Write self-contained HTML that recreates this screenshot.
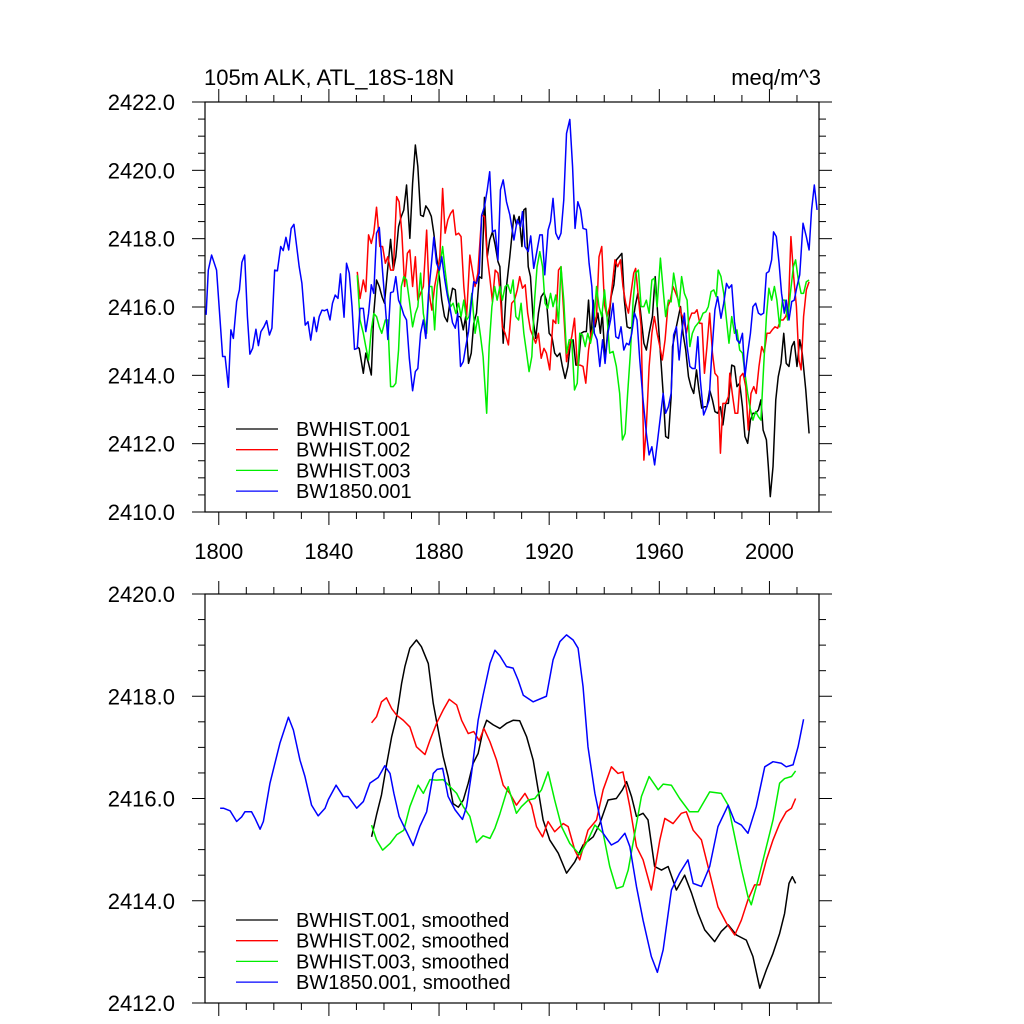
<!DOCTYPE html>
<html><head><meta charset="utf-8">
<style>
html,body{margin:0;padding:0;background:#fff;}
svg{display:block;font-family:"Liberation Sans",Arial,sans-serif;}
</style></head>
<body>
<svg id="chart" xmlns="http://www.w3.org/2000/svg" width="1024" height="1024" viewBox="0 0 1024 1024">
<rect width="1024" height="1024" fill="#fff"/>
<text x="204" y="85" font-size="22">105m ALK, ATL_18S-18N</text>
<text x="821" y="85" font-size="22" text-anchor="end">meq/m^3</text>
<g id="top"></g>
<g id="bottom"></g>
</svg>
<script>
const xDomain=[1795,2018];
const topYTicks=[2410,2412,2414,2416,2418,2420,2422];
const botYTicks=[2412,2414,2416,2418,2420];
const xTicks=[1800,1840,1880,1920,1960,2000];
const seriesNames=["BWHIST.001","BWHIST.002","BWHIST.003","BW1850.001"];
const seriesColors=["#000000","#ff0000","#00ee00","#0000ff"];

const blackRaw=[[1850.1,2414.84],[1851.0,2414.79],[1852.5,2414.06],[1853.4,2414.65],[1854.4,2414.35],[1855.4,2414.01],[1856.3,2415.81],[1857.3,2416.79],[1858.3,2416.6],[1859.3,2416.3],[1860.2,2416.11],[1861.2,2416.99],[1862.4,2417.98],[1863.4,2417.08],[1864.3,2417.47],[1865.3,2418.35],[1866.3,2418.65],[1867.2,2418.84],[1868.2,2419.57],[1869.4,2418.01],[1870.4,2419.62],[1871.4,2420.74],[1872.3,2420.11],[1873.3,2418.69],[1874.3,2418.65],[1875.2,2418.96],[1876.2,2418.84],[1877.2,2418.65],[1878.1,2418.16],[1879.1,2417.47],[1880.1,2416.89],[1881.0,2416.2],[1882.0,2415.72],[1883.0,2415.57],[1883.9,2416.11],[1884.9,2416.55],[1885.9,2416.5],[1886.8,2415.72],[1887.8,2415.72],[1888.8,2415.33],[1889.7,2415.72],[1890.7,2414.35],[1891.7,2414.65],[1892.6,2415.52],[1893.6,2415.82],[1894.6,2416.89],[1895.5,2416.84],[1896.5,2419.21],[1897.5,2417.47],[1898.4,2417.96],[1899.4,2418.2],[1900.4,2417.81],[1901.4,2417.33],[1902.1,2417.18],[1903.3,2414.94],[1904.5,2416.6],[1905.7,2417.47],[1907.2,2418.69],[1908.1,2418.4],[1909.1,2418.65],[1910.1,2417.77],[1910.8,2418.84],[1911.5,2418.89],[1912.4,2417.18],[1913.2,2416.89],[1914.2,2415.62],[1915.1,2415.08],[1916.1,2415.82],[1917.1,2416.3],[1918.1,2416.42],[1919.0,2416.2],[1920.0,2415.23],[1921.0,2415.13],[1922.0,2414.65],[1922.9,2414.55],[1923.9,2414.65],[1924.8,2414.26],[1925.8,2413.91],[1926.8,2414.26],[1927.7,2414.94],[1928.7,2415.04],[1929.7,2414.3],[1930.6,2414.3],[1931.6,2415.23],[1932.6,2415.28],[1933.5,2415.28],[1934.3,2416.2],[1935.2,2415.04],[1936.0,2416.2],[1936.7,2415.42],[1937.7,2415.82],[1938.6,2415.23],[1939.3,2415.82],[1940.3,2414.45],[1941.3,2415.33],[1942.5,2416.3],[1943.5,2416.65],[1944.4,2417.38],[1945.4,2417.47],[1946.4,2417.57],[1947.3,2416.2],[1948.3,2415.42],[1949.3,2415.38],[1950.2,2415.42],[1951.2,2416.01],[1952.2,2416.4],[1953.1,2415.92],[1954.4,2414.94],[1955.3,2414.74],[1956.3,2415.23],[1957.5,2415.72],[1958.5,2416.89],[1959.4,2415.82],[1960.4,2414.65],[1961.4,2413.47],[1962.3,2412.21],[1963.3,2412.16],[1964.3,2413.38],[1964.8,2414.84],[1965.7,2415.23],[1966.7,2415.62],[1967.7,2416.01],[1968.6,2415.23],[1969.6,2414.74],[1970.6,2413.96],[1971.5,2413.67],[1972.5,2413.47],[1973.5,2414.16],[1974.4,2413.57],[1975.4,2413.04],[1976.4,2413.08],[1977.3,2413.08],[1978.3,2413.57],[1979.3,2413.28],[1980.2,2412.94],[1981.2,2412.89],[1982.2,2413.08],[1983.1,2412.55],[1984.1,2413.18],[1985.1,2413.18],[1986.3,2414.3],[1987.3,2414.26],[1988.2,2413.67],[1989.2,2413.77],[1990.2,2413.08],[1991.1,2412.21],[1992.1,2412.01],[1993.1,2412.69],[1994.0,2412.89],[1995.0,2412.89],[1996.0,2412.99],[1996.9,2413.28],[1997.7,2412.4],[1998.9,2412.11],[1999.6,2411.33],[2000.3,2410.45],[2001.3,2411.33],[2002.3,2413.28],[2003.2,2413.96],[2004.2,2414.35],[2005.2,2415.23],[2006.1,2414.35],[2007.1,2414.26],[2008.1,2414.84],[2009.0,2414.99],[2010.0,2414.26],[2011.0,2415.04],[2011.9,2414.65],[2013.2,2413.57],[2014.4,2412.3]];

const redRaw=[[1850.3,2417.03],[1851.3,2416.25],[1852.5,2416.79],[1853.4,2416.45],[1854.4,2418.11],[1855.4,2417.86],[1856.3,2418.16],[1857.3,2418.92],[1858.5,2417.77],[1859.5,2417.77],[1860.5,2417.28],[1861.4,2417.47],[1862.4,2417.08],[1863.4,2417.08],[1864.6,2419.23],[1865.5,2419.08],[1866.5,2418.16],[1867.5,2416.6],[1868.5,2417.57],[1869.4,2417.67],[1870.4,2416.6],[1871.4,2417.47],[1872.3,2416.2],[1873.3,2416.4],[1874.3,2416.6],[1875.5,2418.25],[1876.4,2416.4],[1877.4,2415.91],[1878.4,2416.6],[1879.3,2416.99],[1880.3,2417.47],[1881.3,2419.47],[1882.2,2418.16],[1883.2,2418.55],[1884.2,2418.74],[1885.1,2418.84],[1886.1,2418.11],[1887.1,2418.16],[1888.0,2418.06],[1889.0,2416.6],[1890.0,2415.72],[1891.2,2417.52],[1892.2,2417.03],[1893.1,2416.6],[1894.1,2416.99],[1895.5,2418.69],[1896.5,2418.65],[1897.5,2417.47],[1898.4,2416.89],[1899.4,2416.16],[1900.4,2417.08],[1901.4,2416.99],[1902.1,2416.5],[1903.0,2415.42],[1904.0,2415.23],[1905.2,2414.89],[1906.4,2416.11],[1907.4,2416.2],[1908.4,2416.5],[1909.3,2416.89],[1910.3,2416.55],[1911.3,2416.65],[1912.2,2415.82],[1913.2,2415.33],[1914.2,2415.13],[1915.1,2414.94],[1916.1,2415.23],[1917.1,2414.5],[1918.1,2414.79],[1919.0,2414.65],[1920.2,2414.16],[1921.4,2415.62],[1922.4,2415.52],[1923.4,2417.08],[1924.3,2417.18],[1925.3,2415.82],[1926.3,2414.4],[1927.3,2414.84],[1928.2,2415.13],[1929.2,2415.67],[1930.2,2414.3],[1931.2,2414.3],[1932.3,2414.26],[1933.3,2413.77],[1934.3,2414.74],[1935.2,2415.23],[1936.2,2415.42],[1937.2,2415.72],[1938.1,2417.47],[1939.1,2417.77],[1940.1,2416.06],[1941.0,2415.72],[1942.0,2416.01],[1943.0,2416.7],[1943.9,2417.38],[1944.9,2417.18],[1945.9,2417.38],[1946.8,2416.6],[1947.8,2416.11],[1948.8,2415.82],[1949.7,2416.4],[1950.7,2416.99],[1951.4,2417.13],[1952.4,2416.3],[1953.4,2415.42],[1954.4,2411.52],[1955.3,2412.5],[1956.3,2414.26],[1957.3,2415.23],[1958.2,2415.72],[1959.2,2415.23],[1960.2,2414.84],[1961.1,2414.45],[1962.1,2415.04],[1963.1,2416.01],[1964.0,2416.2],[1965.0,2416.6],[1966.0,2416.4],[1966.9,2416.2],[1967.9,2415.82],[1968.9,2415.62],[1969.8,2415.23],[1970.8,2415.62],[1971.8,2415.82],[1972.8,2415.82],[1973.7,2415.92],[1974.7,2415.52],[1975.5,2415.52],[1976.4,2414.06],[1977.3,2414.84],[1978.3,2415.82],[1979.3,2414.65],[1980.2,2414.06],[1981.2,2413.96],[1982.2,2411.72],[1983.1,2413.18],[1984.1,2413.18],[1985.1,2413.38],[1985.6,2414.06],[1986.5,2413.47],[1987.5,2412.89],[1988.5,2412.89],[1989.4,2413.96],[1990.4,2414.06],[1991.4,2413.67],[1992.3,2412.4],[1993.3,2413.47],[1994.3,2413.67],[1995.2,2413.47],[1996.2,2414.26],[1997.2,2414.84],[1998.1,2414.65],[1999.1,2415.23],[2000.1,2415.23],[2001.0,2415.33],[2002.0,2415.42],[2003.0,2415.38],[2004.0,2415.62],[2005.0,2415.62],[2005.9,2415.72],[2006.9,2416.01],[2007.8,2418.06],[2008.8,2416.89],[2009.8,2416.01],[2010.7,2414.45],[2011.5,2414.16],[2012.4,2415.72],[2013.4,2416.5],[2014.4,2416.74]];

const greenRaw=[[1850.3,2416.93],[1851.3,2415.62],[1852.5,2415.23],[1853.4,2414.84],[1854.4,2414.45],[1855.4,2415.33],[1856.3,2415.81],[1857.3,2415.72],[1858.3,2415.42],[1859.2,2415.23],[1860.5,2415.62],[1861.4,2415.62],[1862.4,2413.67],[1863.4,2413.67],[1864.3,2413.77],[1865.3,2414.74],[1866.3,2416.6],[1867.2,2416.89],[1868.2,2416.79],[1869.2,2416.2],[1870.4,2415.42],[1871.4,2415.81],[1872.3,2416.01],[1873.3,2416.99],[1874.3,2415.81],[1875.5,2415.23],[1876.4,2416.6],[1877.4,2416.6],[1878.4,2415.33],[1879.3,2416.6],[1880.3,2417.18],[1881.3,2417.77],[1882.2,2417.08],[1883.2,2416.4],[1884.2,2416.01],[1885.1,2416.11],[1886.1,2415.81],[1887.1,2416.11],[1888.0,2415.72],[1889.0,2416.2],[1890.0,2415.62],[1890.9,2415.72],[1891.9,2416.4],[1893.1,2415.23],[1894.1,2415.72],[1895.1,2415.13],[1896.0,2414.55],[1897.3,2412.89],[1898.2,2414.84],[1899.2,2416.01],[1900.2,2416.6],[1901.1,2416.2],[1902.1,2416.6],[1903.0,2416.2],[1904.0,2416.6],[1905.0,2416.65],[1906.0,2416.4],[1906.9,2416.79],[1907.9,2415.72],[1908.9,2415.62],[1909.8,2416.11],[1910.8,2415.23],[1911.8,2414.65],[1912.7,2414.11],[1913.7,2414.55],[1914.7,2416.2],[1915.6,2417.18],[1916.6,2417.62],[1917.6,2417.18],[1918.5,2416.11],[1919.5,2415.96],[1920.5,2416.4],[1921.4,2416.01],[1922.4,2416.35],[1923.4,2415.52],[1924.3,2417.18],[1925.3,2416.2],[1926.3,2414.65],[1927.3,2415.04],[1928.2,2415.04],[1929.2,2413.57],[1930.2,2413.77],[1931.1,2415.23],[1932.1,2415.18],[1933.1,2414.84],[1934.0,2415.23],[1935.0,2414.94],[1936.0,2415.33],[1937.2,2416.6],[1938.1,2416.01],[1939.1,2415.72],[1940.1,2416.5],[1941.0,2415.72],[1942.0,2414.65],[1943.2,2414.7],[1944.4,2414.26],[1945.6,2413.47],[1946.6,2412.11],[1947.6,2412.3],[1948.5,2413.47],[1949.5,2414.65],[1950.5,2416.2],[1951.4,2416.99],[1952.4,2417.08],[1953.4,2416.01],[1954.4,2416.01],[1955.3,2416.2],[1956.3,2415.82],[1957.3,2416.79],[1958.2,2416.84],[1959.2,2416.01],[1960.4,2417.43],[1961.4,2416.5],[1962.3,2415.72],[1963.3,2416.2],[1964.3,2416.15],[1965.2,2416.99],[1966.2,2416.5],[1967.2,2416.01],[1968.1,2416.89],[1969.1,2416.4],[1970.1,2416.2],[1971.1,2414.84],[1972.0,2415.23],[1973.0,2415.42],[1974.0,2415.52],[1974.9,2415.62],[1975.9,2415.82],[1976.9,2415.86],[1977.8,2416.01],[1978.8,2416.45],[1979.8,2416.5],[1980.7,2416.3],[1981.4,2417.08],[1982.4,2416.89],[1983.4,2416.4],[1984.4,2415.62],[1985.3,2414.94],[1986.3,2415.72],[1987.3,2415.23],[1988.2,2415.33],[1989.2,2414.74],[1990.2,2414.65],[1991.1,2414.06],[1992.1,2413.47],[1993.1,2412.99],[1994.0,2412.69],[1995.0,2412.94],[1996.0,2412.79],[1996.9,2412.69],[1997.9,2414.26],[1998.9,2415.72],[1999.8,2416.55],[2000.8,2416.2],[2001.8,2416.6],[2002.7,2416.2],[2003.7,2415.42],[2004.7,2416.2],[2005.6,2416.2],[2006.6,2415.62],[2007.6,2416.4],[2008.7,2417.18],[2009.5,2417.38],[2010.5,2416.79],[2011.5,2416.4],[2012.4,2416.4],[2013.4,2416.74],[2014.4,2416.79]];

const blueRaw=[[1795.4,2415.77],[1796.2,2417.08],[1797.4,2417.52],[1799.2,2417.08],[1801.4,2414.55],[1802.3,2414.55],[1803.5,2413.65],[1804.4,2415.33],[1805.3,2415.08],[1806.5,2416.16],[1807.5,2416.5],[1808.4,2417.31],[1809.4,2417.52],[1810.4,2415.72],[1811.3,2414.62],[1812.3,2414.79],[1813.5,2415.35],[1814.4,2414.87],[1815.3,2415.28],[1816.4,2415.42],[1817.4,2415.6],[1818.4,2415.18],[1819.3,2415.38],[1820.3,2417.08],[1821.3,2417.06],[1822.5,2417.77],[1823.4,2417.65],[1824.4,2418.04],[1825.4,2417.67],[1826.3,2418.3],[1827.3,2418.42],[1828.3,2417.77],[1829.2,2417.18],[1830.2,2416.69],[1831.4,2415.47],[1832.4,2415.57],[1833.4,2415.03],[1834.6,2415.7],[1835.5,2415.28],[1836.5,2415.72],[1837.5,2415.91],[1838.4,2415.89],[1839.4,2415.93],[1840.4,2415.62],[1841.3,2416.11],[1842.3,2416.35],[1843.3,2416.25],[1844.2,2416.97],[1845.5,2415.7],[1846.4,2417.28],[1847.4,2416.99],[1848.4,2416.01],[1849.3,2414.76],[1850.3,2414.79],[1851.3,2415.96],[1852.5,2415.96],[1853.4,2415.28],[1854.4,2415.81],[1855.4,2416.65],[1856.3,2416.4],[1857.3,2418.16],[1858.3,2418.33],[1859.5,2417.03],[1860.5,2416.01],[1861.4,2415.05],[1862.4,2416.42],[1863.4,2416.45],[1864.3,2416.89],[1865.3,2416.2],[1866.3,2416.01],[1867.2,2415.77],[1868.2,2415.62],[1869.2,2414.5],[1870.4,2413.55],[1871.4,2414.11],[1872.3,2414.2],[1873.3,2415.23],[1874.3,2415.62],[1875.2,2415.08],[1876.2,2416.4],[1877.2,2417.23],[1878.1,2418.04],[1879.1,2417.28],[1880.1,2417.08],[1881.0,2417.47],[1882.0,2416.84],[1883.0,2416.35],[1883.9,2416.01],[1884.9,2415.54],[1885.9,2415.38],[1886.8,2415.81],[1887.8,2414.26],[1888.8,2414.4],[1889.7,2414.84],[1890.7,2415.28],[1891.7,2416.11],[1892.6,2416.74],[1893.6,2416.69],[1894.6,2416.99],[1895.5,2418.69],[1896.5,2418.94],[1897.5,2419.42],[1898.4,2419.96],[1899.4,2418.2],[1900.4,2418.25],[1901.4,2417.38],[1902.3,2419.43],[1903.3,2419.72],[1904.5,2419.08],[1905.7,2418.7],[1907.2,2417.96],[1908.4,2418.55],[1909.6,2418.35],[1910.3,2418.79],[1911.2,2417.77],[1912.4,2417.62],[1913.3,2418.08],[1914.4,2417.13],[1915.4,2417.57],[1916.6,2418.11],[1917.5,2418.11],[1918.4,2416.94],[1919.6,2418.25],[1920.5,2418.5],[1921.4,2419.18],[1922.4,2418.16],[1923.4,2417.98],[1924.3,2418.16],[1925.3,2419.13],[1926.3,2421.08],[1927.5,2421.49],[1928.5,2420.11],[1929.4,2418.3],[1930.4,2419.08],[1931.4,2418.84],[1932.3,2418.3],[1933.5,2418.27],[1934.5,2417.28],[1935.5,2416.6],[1936.4,2415.23],[1937.4,2415.04],[1938.4,2414.26],[1939.4,2415.04],[1940.3,2414.35],[1941.3,2415.23],[1942.3,2415.62],[1943.2,2416.11],[1944.2,2415.13],[1945.2,2415.08],[1946.1,2415.42],[1947.1,2414.74],[1948.1,2414.94],[1949.0,2414.89],[1950.0,2415.23],[1951.0,2415.82],[1951.9,2415.62],[1952.9,2414.45],[1954.1,2413.28],[1955.3,2412.3],[1956.3,2411.67],[1957.3,2411.91],[1958.3,2411.38],[1959.4,2412.11],[1960.4,2412.79],[1961.4,2413.47],[1962.3,2412.89],[1963.3,2413.08],[1964.3,2413.47],[1965.2,2415.18],[1966.2,2415.42],[1967.2,2414.45],[1968.1,2415.23],[1969.1,2415.82],[1970.1,2414.84],[1971.1,2414.26],[1972.0,2414.2],[1973.0,2414.2],[1974.0,2415.13],[1974.9,2413.86],[1976.1,2412.84],[1977.1,2413.04],[1978.1,2413.28],[1979.0,2414.55],[1980.2,2415.92],[1981.2,2416.3],[1982.4,2415.67],[1983.4,2416.11],[1984.4,2416.69],[1985.3,2416.55],[1986.3,2416.65],[1987.3,2415.57],[1988.2,2415.04],[1989.2,2414.94],[1990.2,2415.23],[1991.1,2413.96],[1992.1,2414.65],[1993.1,2415.23],[1994.0,2416.01],[1995.0,2416.11],[1996.0,2415.82],[1996.9,2415.77],[1997.9,2415.82],[1998.9,2416.99],[1999.8,2417.04],[2000.8,2417.38],[2001.5,2418.2],[2002.5,2418.06],[2003.5,2417.28],[2004.4,2416.4],[2005.4,2415.82],[2006.1,2416.2],[2007.1,2415.62],[2008.1,2416.16],[2009.0,2416.2],[2010.0,2416.6],[2011.0,2416.94],[2012.2,2418.45],[2013.4,2418.06],[2014.4,2417.67],[2015.3,2418.84],[2016.3,2419.57],[2017.3,2418.84]];

const blackSmooth=[[1855.5,2415.25],[1857.3,2415.68],[1859.1,2416.07],[1860.9,2416.65],[1862.8,2417.21],[1864.6,2417.6],[1866.4,2418.25],[1867.6,2418.58],[1869.4,2418.94],[1871.8,2419.1],[1873.6,2418.97],[1876.1,2418.64],[1877.9,2417.86],[1879.7,2417.34],[1881.5,2416.82],[1883.3,2416.43],[1885.1,2415.9],[1887.0,2415.83],[1888.8,2415.97],[1890.6,2416.3],[1892.4,2416.69],[1894.2,2416.88],[1896.0,2417.34],[1897.3,2417.53],[1899.7,2417.44],[1902.1,2417.37],[1904.5,2417.47],[1906.9,2417.53],[1909.3,2417.52],[1911.8,2417.21],[1914.2,2416.75],[1916.0,2416.17],[1917.8,2415.58],[1920.2,2415.19],[1923.3,2414.93],[1926.3,2414.54],[1929.3,2414.76],[1932.3,2415.09],[1936.0,2415.25],[1938.4,2415.51],[1941.4,2415.97],[1944.4,2416.0],[1946.6,2416.17],[1948.1,2416.33],[1949.9,2416.04],[1951.7,2415.65],[1954.1,2415.71],[1955.9,2415.58],[1958.3,2414.67],[1960.8,2414.6],[1963.2,2414.67],[1966.2,2414.21],[1969.2,2414.5],[1971.7,2414.15],[1974.1,2413.75],[1976.5,2413.43],[1980.1,2413.2],[1982.5,2413.4],[1985.0,2413.53],[1988.0,2413.33],[1991.6,2413.23],[1994.0,2412.91],[1996.5,2412.29],[1998.9,2412.65],[2001.3,2412.97],[2003.7,2413.36],[2005.5,2413.75],[2007.1,2414.34],[2008.3,2414.47],[2009.5,2414.34]];

const redSmooth=[[1855.5,2417.48],[1857.3,2417.6],[1859.1,2417.89],[1860.9,2417.97],[1862.8,2417.76],[1864.6,2417.63],[1867.0,2417.53],[1869.4,2417.4],[1871.8,2417.01],[1874.9,2416.86],[1876.7,2417.14],[1879.1,2417.47],[1881.5,2417.73],[1883.7,2417.94],[1886.4,2417.83],[1888.2,2417.53],[1890.6,2417.27],[1892.6,2417.31],[1894.6,2417.13],[1896.3,2417.37],[1898.5,2417.11],[1900.9,2416.75],[1903.3,2416.26],[1905.7,2416.1],[1908.1,2415.87],[1911.2,2416.1],[1913.6,2415.87],[1915.4,2415.45],[1917.6,2415.25],[1919.6,2415.55],[1922.0,2415.35],[1925.1,2415.51],[1926.9,2415.45],[1929.3,2414.99],[1931.1,2414.8],[1934.1,2415.38],[1937.2,2415.58],[1939.6,2416.17],[1942.6,2416.62],[1945.0,2416.49],[1946.8,2416.52],[1949.3,2415.84],[1951.7,2415.06],[1954.1,2414.8],[1957.1,2414.21],[1960.2,2415.19],[1962.0,2415.61],[1965.0,2415.51],[1968.0,2415.71],[1969.8,2415.74],[1972.3,2415.38],[1975.3,2415.19],[1978.3,2414.54],[1981.3,2413.88],[1984.4,2413.56],[1987.4,2413.33],[1989.8,2413.62],[1992.2,2414.02],[1994.6,2414.31],[1996.5,2414.31],[1998.9,2414.8],[2001.3,2415.19],[2003.7,2415.51],[2006.1,2415.74],[2008.0,2415.81],[2009.5,2416.0]];

const greenSmooth=[[1855.5,2415.48],[1857.3,2415.19],[1859.5,2414.99],[1862.2,2415.12],[1864.6,2415.29],[1867.2,2415.38],[1869.4,2415.84],[1872.4,2416.26],[1874.3,2416.1],[1876.7,2416.37],[1879.1,2416.36],[1881.5,2416.37],[1884.0,2416.23],[1886.4,2416.1],[1888.8,2415.84],[1891.2,2415.65],[1893.6,2415.14],[1896.0,2415.27],[1898.5,2415.22],[1900.3,2415.42],[1902.1,2415.7],[1905.1,2416.23],[1908.1,2415.71],[1909.9,2415.84],[1912.4,2415.97],[1914.8,2416.0],[1917.2,2416.17],[1919.6,2416.52],[1922.0,2415.97],[1924.5,2415.45],[1927.5,2415.12],[1931.1,2414.9],[1934.1,2415.19],[1936.6,2415.48],[1939.6,2415.32],[1942.0,2414.67],[1944.4,2414.24],[1946.8,2414.28],[1948.7,2414.6],[1951.1,2415.32],[1953.5,2416.04],[1956.3,2416.43],[1959.6,2416.17],[1961.4,2416.28],[1964.4,2416.26],[1967.4,2416.0],[1971.0,2415.74],[1974.1,2415.74],[1978.3,2416.13],[1982.5,2416.1],[1985.0,2415.87],[1987.4,2415.25],[1989.8,2414.63],[1992.2,2414.08],[1993.4,2413.92],[1995.9,2414.41],[1998.9,2415.06],[2001.3,2415.58],[2003.7,2416.3],[2005.5,2416.39],[2008.0,2416.43],[2009.5,2416.54]];

const blueSmooth=[[1800.5,2415.81],[1801.7,2415.81],[1804.1,2415.76],[1806.5,2415.55],[1808.3,2415.64],[1809.5,2415.74],[1811.9,2415.74],[1813.2,2415.61],[1815.0,2415.4],[1816.2,2415.55],[1818.6,2416.3],[1822.2,2417.08],[1825.3,2417.59],[1827.1,2417.34],[1829.5,2416.75],[1831.3,2416.43],[1833.7,2415.87],[1836.1,2415.66],[1838.6,2415.81],[1839.8,2415.98],[1842.6,2416.26],[1845.2,2416.04],[1847.0,2416.04],[1850.1,2415.81],[1852.5,2415.94],[1854.9,2416.3],[1857.9,2416.41],[1860.3,2416.64],[1862.2,2416.49],[1863.6,2416.1],[1865.5,2415.65],[1868.2,2415.35],[1870.6,2415.08],[1873.0,2415.45],[1875.5,2415.74],[1877.9,2416.49],[1879.3,2416.57],[1881.3,2416.59],[1883.3,2416.04],[1885.8,2415.78],[1888.5,2415.59],[1890.0,2415.84],[1891.8,2416.49],[1894.2,2417.53],[1896.0,2418.02],[1898.5,2418.64],[1900.3,2418.9],[1902.1,2418.79],[1904.5,2418.58],[1906.9,2418.55],[1908.7,2418.32],[1910.6,2418.02],[1914.2,2417.89],[1919.0,2418.0],[1921.4,2418.71],[1923.9,2419.07],[1926.3,2419.2],[1928.7,2419.1],[1930.5,2418.94],[1932.3,2418.19],[1934.1,2417.01],[1936.6,2416.1],[1939.6,2415.32],[1942.6,2415.09],[1945.0,2415.16],[1947.5,2415.32],[1949.3,2415.06],[1951.7,2414.28],[1954.1,2413.62],[1957.1,2412.91],[1959.3,2412.6],[1961.4,2413.04],[1964.4,2414.21],[1967.4,2414.54],[1970.4,2414.8],[1972.3,2414.34],[1975.3,2414.28],[1978.3,2414.67],[1981.3,2415.45],[1985.0,2415.87],[1987.4,2415.55],[1989.8,2415.48],[1992.2,2415.32],[1995.2,2415.84],[1998.3,2416.62],[2001.3,2416.72],[2004.3,2416.69],[2006.1,2416.62],[2008.6,2416.66],[2010.4,2417.01],[2012.4,2417.55]];

const NS="http://www.w3.org/2000/svg";
const X0=205,X1=819;
function xScale(yr){return X0+(yr-xDomain[0])/(xDomain[1]-xDomain[0])*(X1-X0);}
function mk(tag,attrs,parent){const e=document.createElementNS(NS,tag);for(const k in attrs)e.setAttribute(k,attrs[k]);parent.appendChild(e);return e;}

function panel(g,top,bottom,yMin,yMax,yTicks,showXLabels,raw,legendY,legendSuffix){
  const yScale=v=>bottom-(v-yMin)/(yMax-yMin)*(bottom-top);
  const frame=mk('rect',{x:X0,y:top,width:X1-X0,height:bottom-top,fill:'none',stroke:'#000','stroke-width':1.2},g);
  
  
  for(let v=yMin;v<=yMax+1e-9;v+=0.5){
    const y=yScale(v);const major=Math.abs(v-Math.round(v/2)*2)<1e-6;const L=major?13:7;
    const t1=mk('line',{x1:X0-L,y1:y,x2:X0,y2:y,stroke:'#000','stroke-width':1},g);
    
    
    const t2=mk('line',{x1:X1,y1:y,x2:X1+L,y2:y,stroke:'#000','stroke-width':1},g);
    
    
  }
  yTicks.forEach(v=>{
    const t=mk('text',{x:175,y:yScale(v)+8,'font-size':22,'text-anchor':'end'},g);
    t.textContent=v.toFixed(1);
    
    
  });
  for(let yr=1800;yr<=xDomain[1];yr+=10){
    const x=xScale(yr);const major=(yr-1800)%40===0;const L=major?13:7;
    const a=mk('line',{x1:x,y1:top-L,x2:x,y2:top,stroke:'#000','stroke-width':1},g);
    
    
    const b=mk('line',{x1:x,y1:bottom,x2:x,y2:bottom+L,stroke:'#000','stroke-width':1},g);
    
    
  }
  if(showXLabels){
    xTicks.forEach(yr=>{
      const t=mk('text',{x:xScale(yr),y:bottom+47,'font-size':22,'text-anchor':'middle'},g);
      t.textContent=String(yr);
      
      
    });
  }
  raw.forEach((s,i)=>{
    const d=s.map((p,j)=>(j?'L':'M')+xScale(p[0]).toFixed(2)+' '+yScale(p[1]).toFixed(2)).join(' ');
    const p=mk('path',{d:d,fill:'none',stroke:seriesColors[i],'stroke-width':1.5,'stroke-linejoin':'round'},g);
    
    
  });
  seriesNames.forEach((n,i)=>{
    const y=legendY+i*20.7;
    const l=mk('line',{x1:236,y1:y,x2:278,y2:y,stroke:seriesColors[i],'stroke-width':1.3},g);
    
    
    const t=mk('text',{x:296,y:y+7,'font-size':20},g);
    t.textContent=n+legendSuffix;
    
    
  });
}
panel(document.getElementById('top'),102,512,2410,2422,topYTicks,true,[blackRaw,redRaw,greenRaw,blueRaw],429,'');
panel(document.getElementById('bottom'),594,1003,2412,2420,botYTicks,false,[blackSmooth,redSmooth,greenSmooth,blueSmooth],920,', smoothed');
</script>
</body></html>
